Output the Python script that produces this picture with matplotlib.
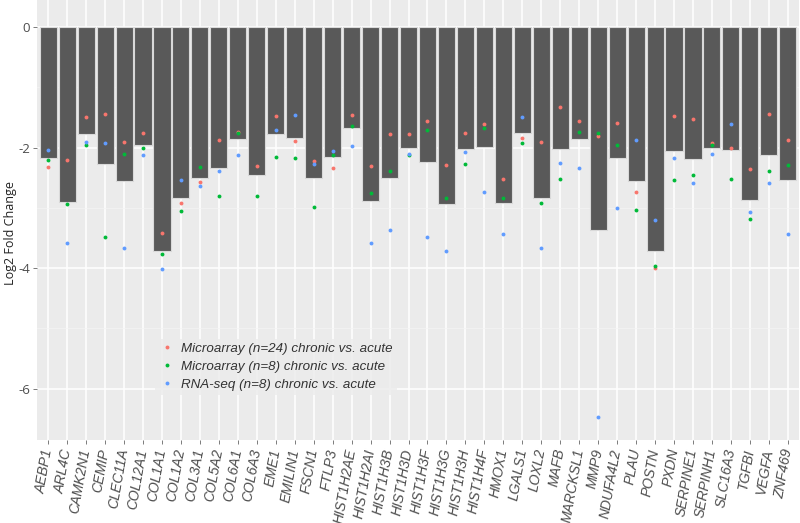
import numpy as np
import matplotlib
matplotlib.use("Agg")
import matplotlib.pyplot as plt
from matplotlib.ticker import MultipleLocator, FuncFormatter

plt.rcParams["font.family"] = ["Liberation Sans", "DejaVu Sans"]

genes = ["AEBP1", "ARL4C", "CAMK2N1", "CEMIP", "CLEC11A", "COL12A1", "COL1A1", "COL1A2",
         "COL3A1", "COL5A2", "COL6A1", "COL6A3", "EME1", "EMILIN1", "FSCN1", "FTLP3",
         "HIST1H2AE", "HIST1H2AI", "HIST1H3B", "HIST1H3D", "HIST1H3F", "HIST1H3G", "HIST1H3H",
         "HIST1H4F", "HMOX1", "LGALS1", "LOXL2", "MAFB", "MARCKSL1", "MMP9", "NDUFA4L2",
         "PLAU", "POSTN", "PXDN", "SERPINE1", "SERPINH1", "SLC16A3", "TGFBI", "VEGFA", "ZNF469"]

# bar heights (log2 fold change)
bar_lfc = [-2.18, -2.90, -1.78, -2.28, -2.56, -1.96, -3.72, -2.83, -2.50, -2.34,
           -1.86, -2.46, -1.78, -1.84, -2.50, -2.16, -1.67, -2.88, -2.50, -2.00,
           -2.24, -2.94, -2.03, -1.99, -2.92, -1.75, -2.83, -2.02, -1.86, -3.36,
           -2.17, -2.55, -3.71, -2.06, -2.19, -2.00, -2.04, -2.87, -2.13, -2.53]

micro24 = [-2.32, -2.21, -1.50, -1.44, -1.91, -1.75, -3.41, -2.92, -2.57, -1.88,
           -1.74, -2.30, -1.48, -1.89, -2.23, -2.33, -1.46, -2.31, -1.77, -1.78,
           -1.56, -2.29, -1.76, -1.60, -2.52, -1.84, -1.91, -1.32, -1.56, -1.80,
           -1.59, -2.73, -3.99, -1.48, -1.52, -1.93, -2.00, -2.36, -1.44, -1.88]

micro8 = [-2.20, -2.94, -1.95, -3.49, -2.11, -2.01, -3.77, -3.05, -2.32, -2.80,
          -1.76, -2.80, -2.16, -2.17, -2.99, -2.12, -1.64, -2.75, -2.38, -2.13,
          -1.70, -2.83, -2.27, -1.67, -2.84, -1.92, -2.92, -2.52, -1.74, -1.76,
          -1.96, -3.04, -3.97, -2.53, -2.45, -1.95, -2.52, -3.18, -2.38, -2.29]

rnaseq = [-2.04, -3.58, -1.90, -1.93, -3.66, -2.13, -4.01, -2.53, -2.63, -2.38,
          -2.12, np.nan, -1.70, -1.46, -2.28, -2.05, -1.97, -3.58, -3.37, -2.11,
          -3.48, -3.71, -2.08, -2.73, -3.43, -1.50, -3.66, -2.25, -2.33, -6.47,
          -3.00, -1.88, -3.20, -2.17, -2.58, -2.11, -1.60, -3.07, -2.58, -3.43]

series = [("Microarray (n=24) chronic vs. acute", micro24, "#F8766D"),
          ("Microarray (n=8) chronic vs. acute", micro8, "#00BA38"),
          ("RNA-seq (n=8) chronic vs. acute", rnaseq, "#619CFF")]

fig = plt.figure(figsize=(8, 5.23), dpi=100)
ax = fig.add_axes([0.046, 0.159, 0.953, 0.841])
ax.set_facecolor("#ebebeb")

x = np.arange(len(genes))
ax.bar(x, bar_lfc, width=0.9, color="#595959", edgecolor="#d9d9d9", linewidth=0.8, zorder=2)
for label, vals, col in series:
    ax.plot(x, vals, "o", ms=2.8, color=col, mec="none", label=label, zorder=3)

ax.set_xlim(-0.6, len(genes) - 0.4)
ax.set_ylim(-6.85, 0.45)
ax.yaxis.set_major_locator(MultipleLocator(2))
ax.yaxis.set_minor_locator(MultipleLocator(1))
ax.grid(True, which="major", color="white", linewidth=1.1, zorder=0)
ax.grid(True, which="minor", axis="y", color="#f5f5f5", linewidth=0.5, zorder=0)
ax.set_axisbelow(True)
for s in ax.spines.values():
    s.set_visible(False)

ax.set_xticks(x)
ax.set_xticklabels(genes, rotation=80, ha="right", va="center", rotation_mode="anchor",
                   fontstyle="italic", fontsize=10, color="#4d4d4d")
ax.tick_params(axis="both", which="major", color="#666666", length=3, width=0.6, labelcolor="#4d4d4d")
ax.tick_params(axis="y", which="minor", length=0)
ax.tick_params(axis="y", labelsize=9.5, pad=2)
for t in ax.get_yticklabels():
    t.set_family(["Open Sans", "DejaVu Sans"])
ax.yaxis.set_major_formatter(FuncFormatter(lambda v, p: "%d" % v))
ax.set_ylabel("Log2 Fold Change", fontsize=9, color="#222222", family=["Open Sans", "DejaVu Sans"])
ax.yaxis.set_label_coords(-0.026, 0.47)

leg = ax.legend(loc="upper left", bbox_to_anchor=(0.146, 0.245), frameon=True,
                facecolor="#ebebeb", edgecolor="none", fontsize=9.6, handletextpad=0.5,
                borderpad=0.3, labelspacing=0.42, handlelength=1.2)
for t in leg.get_texts():
    t.set_fontstyle("italic")
    t.set_color("#333333")

fig.savefig("out.png", dpi=100)
